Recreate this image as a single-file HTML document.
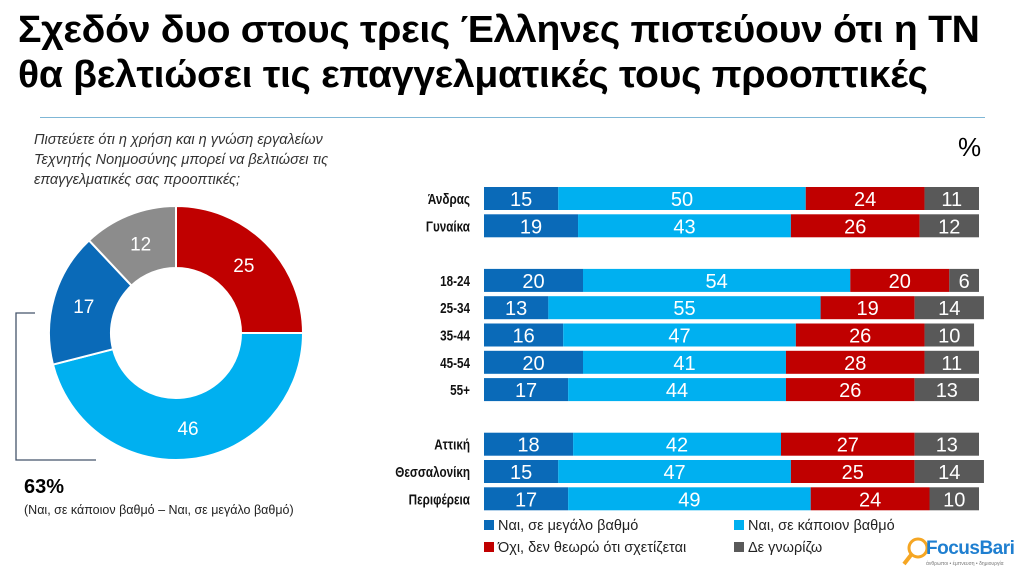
<!DOCTYPE html>
<html><head><meta charset="utf-8">
<style>
body{margin:0;width:1024px;height:576px;background:#fff;font-family:"Liberation Sans",sans-serif;overflow:hidden;position:relative}
.t{position:absolute;left:18px;top:8px;font-size:38px;font-weight:bold;line-height:45px;color:#000;letter-spacing:-0.3px;transform:scaleX(1.03);transform-origin:left;white-space:nowrap}
.abs{position:absolute}
</style></head><body>
<div class="t">Σχεδόν δυο στους τρεις Έλληνες πιστεύουν ότι η ΤΝ<br>θα βελτιώσει τις επαγγελματικές τους προοπτικές</div>
<div class="abs" style="left:40px;top:117px;width:945px;height:1px;background:#7fb7d6"></div>
<div class="abs" style="left:34px;top:130px;font-size:14.5px;font-style:italic;line-height:20px;color:#333">Πιστεύετε ότι η χρήση και η γνώση εργαλείων<br>Τεχνητής Νοημοσύνης μπορεί να βελτιώσει τις<br>επαγγελματικές σας προοπτικές;</div>
<div class="abs" style="left:958px;top:132px;font-size:26px">%</div>
<div class="abs" style="left:24px;top:476px;font-size:20px;font-weight:bold">63%</div>
<div class="abs" style="left:24px;top:503px;font-size:12.5px;color:#222">(Ναι, σε κάποιον βαθμό – Ναι, σε μεγάλο βαθμό)</div>
<svg class="abs" style="left:0;top:0" width="1024" height="576" id="svg">
<path d="M35 313 H16 V460 H96" fill="none" stroke="#44546a" stroke-width="1.3"/>
</svg>
<div class="abs" style="left:484px;top:515px;font-size:14.5px;line-height:22px;color:#222">
<div class="abs" style="left:0;top:0;white-space:nowrap"><span style="display:inline-block;width:10px;height:10px;background:#0a6ab8;margin-right:4px"></span>Ναι, σε μεγάλο βαθμό</div>
<div class="abs" style="left:250px;top:0;white-space:nowrap"><span style="display:inline-block;width:10px;height:10px;background:#00b0f0;margin-right:4px"></span>Ναι, σε κάποιον βαθμό</div>
<div class="abs" style="left:0;top:22px;white-space:nowrap"><span style="display:inline-block;width:10px;height:10px;background:#c00000;margin-right:4px"></span>Όχι, δεν θεωρώ ότι σχετίζεται</div>
<div class="abs" style="left:250px;top:22px;white-space:nowrap"><span style="display:inline-block;width:10px;height:10px;background:#595959;margin-right:4px"></span>Δε γνωρίζω</div>
</div>
<div class="abs" style="left:902px;top:536px;width:120px;height:40px">
<svg width="30" height="34" class="abs" style="left:0;top:0"><circle cx="16" cy="12" r="9" fill="none" stroke="#f5a623" stroke-width="3"/><line x1="9" y1="19" x2="2" y2="28" stroke="#f5a623" stroke-width="4"/></svg>
<div class="abs" style="left:24px;top:2px;font-size:19px;font-weight:bold;color:#1f7fd0;letter-spacing:-0.5px">FocusBari</div>
<div class="abs" style="left:24px;top:25px;font-size:5px;color:#777;white-space:nowrap">άνθρωποι • έμπνευση • δημιουργία</div>
</div>
<script>
const donutLabels=["Όχι","Ναι, σε κάποιον βαθμό","Ναι, σε μεγάλο βαθμό","Δε γνωρίζω"];
const donutValues=[25,46,17,12];
const donutColors=["#c00000","#00b0f0","#0a6ab8","#8c8c8c"];
const categories=["Άνδρας","Γυναίκα","18-24","25-34","35-44","45-54","55+","Αττική","Θεσσαλονίκη","Περιφέρεια"];
const rowSlots=[0,1,3,4,5,6,7,9,10,11];
const big=[15,19,20,13,16,20,17,18,15,17];
const some=[50,43,54,55,47,41,44,42,47,49];
const no=[24,26,20,19,26,28,26,27,25,24];
const dk=[11,12,6,14,10,11,13,13,14,10];
const series=[big,some,no,dk];
const barColors=["#0a6ab8","#00b0f0","#c00000","#595959"];
const NS="http://www.w3.org/2000/svg";
const svg=document.getElementById('svg');
function mk(t,a){const e=document.createElementNS(NS,t);for(const k in a)e.setAttribute(k,a[k]);svg.appendChild(e);return e;}
const cx=176,cy=333,R=127,r=65;
const tot=donutValues.reduce((a,b)=>a+b,0);
let acc=0;
function pt(rad,f){const a=f*2*Math.PI-Math.PI/2;return [cx+rad*Math.cos(a),cy+rad*Math.sin(a)];}
donutValues.forEach((v,i)=>{
 const f0=acc/tot,f1=(acc+v)/tot;acc+=v;
 const [x0,y0]=pt(R,f0),[x1,y1]=pt(R,f1),[x2,y2]=pt(r,f1),[x3,y3]=pt(r,f0);
 const lg=(f1-f0)>0.5?1:0;
 const p=mk('path',{d:`M${x0} ${y0}A${R} ${R} 0 ${lg} 1 ${x1} ${y1}L${x2} ${y2}A${r} ${r} 0 ${lg} 0 ${x3} ${y3}Z`,fill:donutColors[i],stroke:'#fff','stroke-width':2});
 
 
 const [lx,ly]=pt((R+r)/2,(f0+f1)/2);
 const t=mk('text',{x:lx,y:ly+7,'text-anchor':'middle','font-size':19,fill:'#fff','font-family':'Liberation Sans'});
 t.textContent=v;
 
 
});
const x0=484,W=495,top0=187,pitch=27.3,bh=23;
const xs=v=>v*W/100;
categories.forEach((c,i)=>{
 const y=top0+rowSlots[i]*pitch;
 const l=mk('text',{x:0,y:0,transform:`translate(470,${y+17}) scale(0.78,1)`,'text-anchor':'end','font-size':15,'font-weight':'bold',fill:'#111','font-family':'Liberation Sans'});
 l.textContent=c;
 
 
 let a=0;
 series.forEach((s,j)=>{
  const v=s[i];
  const rc=mk('rect',{x:x0+xs(a),y:y,width:xs(v),height:bh,fill:barColors[j]});
  
  
  const t=mk('text',{x:x0+xs(a+v/2),y:y+19,'text-anchor':'middle','font-size':20,fill:'#fff','font-family':'Liberation Sans'});
  t.textContent=v;
  
  
  a+=v;
 });
});
</script>
</body></html>
